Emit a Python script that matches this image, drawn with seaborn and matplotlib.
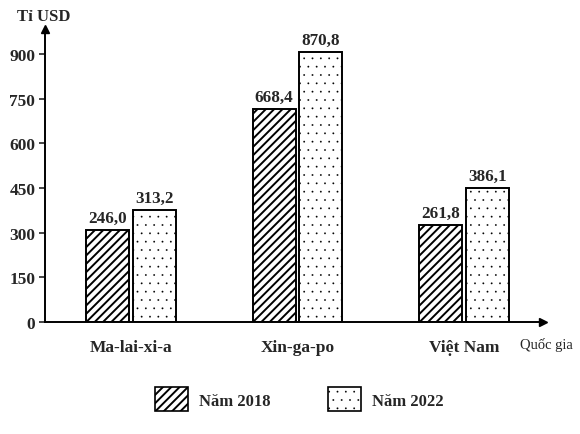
import pandas as pd
import matplotlib
matplotlib.use("Agg")
import matplotlib.pyplot as plt
import seaborn as sns
from matplotlib.patches import Patch

# Data (bar heights as drawn, labels as printed)
countries = ["Ma-lai-xi-a", "Xin-ga-po", "Việt Nam"]
years = ["Năm 2018", "Năm 2022"]
height_2018 = [309, 715, 327]
height_2022 = [376, 905, 451]
labels_2018 = ["246,0", "668,4", "261,8"]
labels_2022 = ["313,2", "870,8", "386,1"]
yticks = [0, 150, 300, 450, 600, 750, 900]

df = pd.DataFrame({
    "country": countries * 2,
    "year": [years[0]] * 3 + [years[1]] * 3,
    "value": height_2018 + height_2022,
})

sns.set_style("white")
plt.rcParams["font.family"] = ["Liberation Serif", "DejaVu Serif"]
plt.rcParams["font.weight"] = "bold"
plt.rcParams["hatch.linewidth"] = 1.4
plt.rcParams["hatch.color"] = "black"

fig = plt.figure(figsize=(5.8, 4.35), dpi=100)
ax = fig.add_axes([0.0776, 0.2575, 0.858, 0.674])

sns.barplot(data=df, x="country", y="value", hue="year", order=countries,
            hue_order=years, palette=["white", "white"], edgecolor="black",
            linewidth=1.4, width=0.56, gap=0.08, legend=False, ax=ax)

hatches = ["////", ".."]
hatch_lw = [1.4, 0.1]
for cont, h, hl, labs in zip(ax.containers, hatches, hatch_lw,
                             [labels_2018, labels_2022]):
    for bar in cont:
        bar.set_hatch(h)
        if hasattr(bar, "set_hatch_linewidth"):
            bar.set_hatch_linewidth(hl)
    ax.bar_label(cont, labels=labs, padding=3, fontsize=12.3, fontweight="bold")

ax.set_xlim(-0.515, 2.47)
ax.set_ylim(0, 984)
ax.set_yticks(yticks)
ax.set_yticklabels([str(t) for t in yticks], fontsize=12.5, fontweight="bold")
ax.tick_params(axis="y", direction="out", length=4, width=1.2, left=True, pad=3)
ax.tick_params(axis="x", length=0, pad=12, labelsize=12.5)
for lab in ax.get_xticklabels():
    lab.set_fontweight("bold")
ax.set_xlabel("")
ax.set_ylabel("")

for s in ["top", "right"]:
    ax.spines[s].set_visible(False)
for s in ["left", "bottom"]:
    ax.spines[s].set_linewidth(1.4)
    ax.spines[s].set_color("black")

# axis arrows
ax.plot(0, 1, "^k", markersize=6, transform=ax.transAxes, clip_on=False)
ax.plot(1, 0, ">k", markersize=6, transform=ax.transAxes, clip_on=False)

fig.text(0.029, 0.961, "Tỉ USD", fontsize=12, fontweight="bold", va="center")
fig.text(0.896, 0.207, "Quốc gia", fontsize=10.5, fontweight="normal", va="center")

handles = [Patch(facecolor="white", edgecolor="black", hatch=h, linewidth=1.2)
           for h in hatches]
leg = fig.legend(handles, years, loc="center", bbox_to_anchor=(0.516, 0.08),
                 ncol=2, frameon=False, fontsize=12, handlelength=2.0,
                 handleheight=1.85, columnspacing=3.4, handletextpad=0.66)
for p, hl in zip(leg.get_patches(), hatch_lw):
    if hasattr(p, "set_hatch_linewidth"):
        p.set_hatch_linewidth(hl)

fig.savefig("out.png", dpi=100)
